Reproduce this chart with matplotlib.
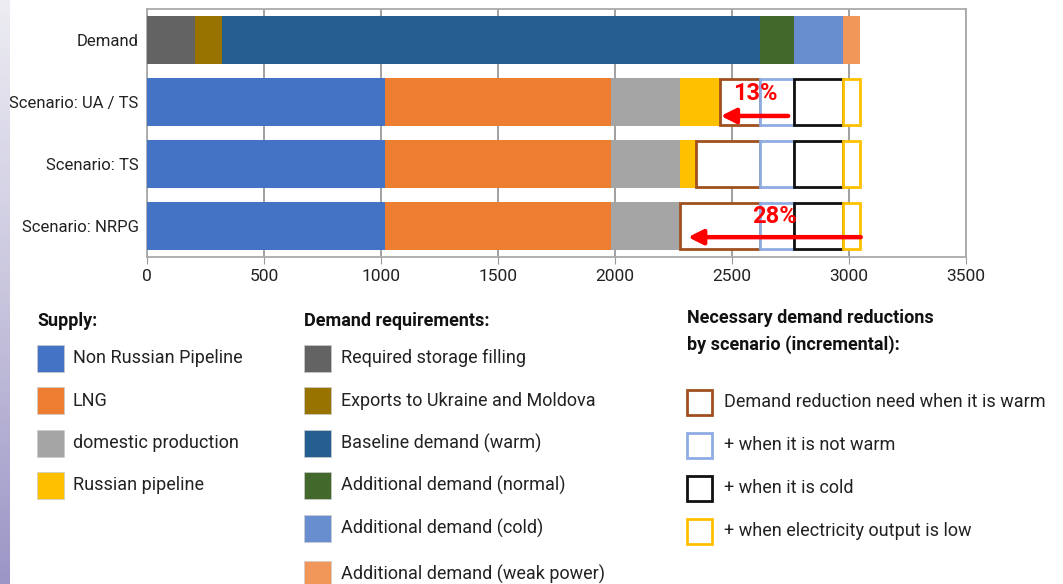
import numpy as np
import matplotlib.pyplot as plt
from matplotlib.patches import Rectangle

plt.rcParams['font.family'] = ['Roboto', 'DejaVu Sans']

rows = ['Demand', 'Scenario: UA / TS', 'Scenario: TS', 'Scenario: NRPG']

# demand requirements (Demand row)
dem_labels = ['Required storage filling', 'Exports to Ukraine and Moldova', 'Baseline demand (warm)',
              'Additional demand (normal)', 'Additional demand (cold)', 'Additional demand (weak power)']
dem_values = [205, 116, 2300, 146, 207, 74]
dem_colors = ['#636363', '#997300', '#255E91', '#43682B', '#698ED0', '#F1975A']

# supply per scenario (UA/TS, TS, NRPG)
sup_labels = ['Non Russian Pipeline', 'LNG', 'domestic production', 'Russian pipeline']
non_russian = [1017, 1017, 1017]
lng = [968, 968, 968]
domestic = [293, 293, 293]
russian = [171, 69, 0]
sup_colors = ['#4472C4', '#ED7D31', '#A5A5A5', '#FFC000']

# necessary demand reductions (incremental)
red_labels = ['Demand reduction need when it is warm', '+ when it is not warm',
              '+ when it is cold', '+ when electricity output is low']
red_warm = [172, 274, 343]
red_normal = [146, 146, 146]
red_cold = [207, 207, 207]
red_power = [74, 74, 74]
red_colors = ['#A0501E', '#8EACE3', '#111111', '#FFC000']

fig = plt.figure(figsize=(10.63, 5.84), dpi=100)
ax = fig.add_axes([147 / 1063, 1 - 257 / 584, 819 / 1063, 248 / 584])

h = 0.77
left = 0
for v, c in zip(dem_values, dem_colors):
    ax.barh(0, v, left=left, height=h, color=c, zorder=3)
    left += v

y = np.arange(1, 4)
lefts = np.zeros(3)
for vals, c in zip([non_russian, lng, domestic, russian], sup_colors):
    ax.barh(y, vals, left=lefts, height=h, color=c, zorder=3)
    lefts += np.array(vals)

for vals, c in zip([red_warm, red_normal, red_cold, red_power], red_colors):
    ax.barh(y, vals, left=lefts, height=h * 0.97, facecolor='white', edgecolor=c,
            linewidth=2, zorder=4)
    lefts += np.array(vals)

# annotations
ax.text(2600, 0.86, '13%', color='#FF0000', fontsize=17, fontweight='bold',
        ha='center', va='center', zorder=6)
ax.annotate('', xy=(2440, 1.225), xytext=(2752, 1.225),
            arrowprops=dict(arrowstyle='-|>', color='#FF0000', lw=3.2, mutation_scale=22), zorder=6)
ax.text(2680, 2.84, '28%', color='#FF0000', fontsize=17, fontweight='bold',
        ha='center', va='center', zorder=6)
ax.annotate('', xy=(2300, 3.18), xytext=(3062, 3.18),
            arrowprops=dict(arrowstyle='-|>', color='#FF0000', lw=3.2, mutation_scale=22), zorder=6)

ax.set_xlim(0, 3500)
ax.set_ylim(3.5, -0.5)
ax.set_xticks(np.arange(0, 3501, 500))
ax.set_yticks(range(4))
ax.set_yticklabels(rows)
ax.tick_params(axis='y', length=0, pad=6, labelsize=12, colors='#222222')
ax.tick_params(axis='x', length=5, color='#999999', labelsize=12.5, colors='#222222', pad=4)
ax.grid(axis='x', color='#999999', linewidth=1.3, zorder=0)
for s in ax.spines.values():
    s.set_color('#aaaaaa')
    s.set_linewidth(1.3)

# purple strip on the left edge
strip = fig.add_axes([0, 0, 10 / 1063, 1])
strip.imshow(np.linspace(0, 1, 100).reshape(-1, 1), cmap=plt.matplotlib.colors.LinearSegmentedColormap.from_list(
    'p', ['#ececf2', '#c9c6de', '#9c96c6']), aspect='auto', extent=[0, 1, 0, 1], origin='upper')
strip.axis('off')


def fx(px):
    return px / 1063


def fy(py):
    return 1 - py / 584


sq = 27
fs = 13


def legend_box(px, pyc, color, filled=True):
    if filled:
        r = Rectangle((fx(px), fy(pyc + sq / 2)), sq / 1063, sq / 584, transform=fig.transFigure,
                      facecolor=color, edgecolor='#cccccc', linewidth=0.5)
    else:
        r = Rectangle((fx(px + 1), fy(pyc + sq / 2 - 1)), (sq - 2) / 1063, (sq - 2) / 584,
                      transform=fig.transFigure, facecolor='white', edgecolor=color, linewidth=2)
    fig.add_artist(r)


fig.text(fx(37), fy(321), 'Supply:', fontsize=fs, fontweight='bold', va='center', color='#111111')
for i, (lab, c) in enumerate(zip(sup_labels, sup_colors)):
    yc = 358 + i * 42.5
    legend_box(37, yc, c)
    fig.text(fx(73), fy(yc), lab, fontsize=fs, va='center', color='#222222')

fig.text(fx(304), fy(321), 'Demand requirements:', fontsize=fs, fontweight='bold', va='center', color='#111111')
for i, (lab, c) in enumerate(zip(dem_labels, dem_colors)):
    yc = 358 + i * 42.5 + (4 if i == 5 else 0)
    legend_box(304, yc, c)
    fig.text(fx(341), fy(yc), lab, fontsize=fs, va='center', color='#222222')

fig.text(fx(687), fy(318), 'Necessary demand reductions', fontsize=fs, fontweight='bold', va='center', color='#111111')
fig.text(fx(687), fy(345), 'by scenario (incremental):', fontsize=fs, fontweight='bold', va='center', color='#111111')
for i, (lab, c) in enumerate(zip(red_labels, red_colors)):
    yc = 402 + i * 43
    legend_box(686, yc, c, filled=False)
    fig.text(fx(724), fy(yc), lab, fontsize=fs, va='center', color='#222222')

fig.savefig('out.png', dpi=100)
